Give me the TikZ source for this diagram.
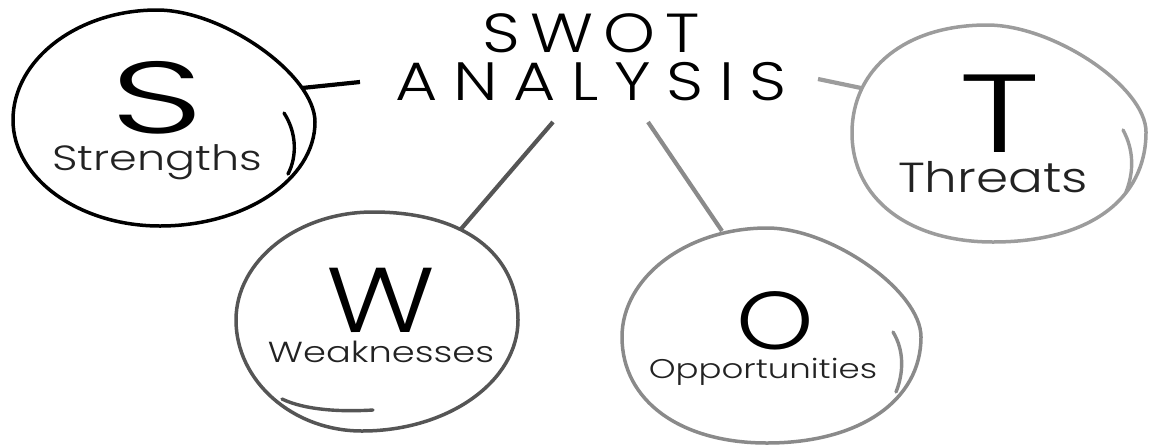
\documentclass[tikz,border=0pt]{standalone}
\usepackage{fontspec}
\setmainfont{Poppins}[UprightFont={* Light}]

\definecolor{wgray}{HTML}{555555}
\definecolor{ogray}{HTML}{8A8A8A}
\definecolor{tgray}{HTML}{9C9C9C}
\definecolor{labelink}{HTML}{222222}

\tikzset{
  bubble/.style={line width=3.5pt, line join=round},
  swoosh/.style={line width=3.4pt, line cap=round},
  link/.style={line width=4.2pt},
  bigletter/.style={anchor=base, inner sep=0pt, text=black},
  caption/.style={anchor=base, inner sep=0pt, text=labelink},
  heading/.style={anchor=base, inner sep=0pt, text=black},
}

\begin{document}
\begin{tikzpicture}[x=1pt, y=-1pt]
\useasboundingbox (0,0) rectangle (1150,445);

% title
\node[heading, font=\fontsize{55}{55}\selectfont\addfontfeature{FakeStretch=1.2,LetterSpace=18}] (swot) at (591,52) {SWOT};
\node[heading, font=\fontsize{54}{54}\selectfont\addfontfeature{FakeStretch=1.2,LetterSpace=29}] (analysis) at (591,100) {ANALYSIS};

% centres of the four bubbles
\coordinate (S) at (164,118);
\coordinate (T) at (1000,134);
\coordinate (W) at (377,321);
\coordinate (O) at (771,335);

% hand-drawn bubble outlines (top, right, bottom, left)
\draw[bubble, black]
  (157,10) .. controls (223.4,10) and (315,75) .. (315,122)
  .. controls (315,179.2) and (245.3,226) .. (160,226)
  .. controls (79.2,226) and (13,178.3) .. (13,120)
  .. controls (13,59.5) and (77.8,10) .. cycle;
\draw[bubble, tgray]
  (987,25) .. controls (1053.8,25) and (1146,87.1) .. (1146,132)
  .. controls (1146,200.2) and (1087.9,242) .. (993,242)
  .. controls (908.4,242) and (852,198.4) .. (852,133)
  .. controls (852,68.2) and (906,25) .. cycle;
\draw[bubble, wgray]
  (373,212) .. controls (462.9,212) and (518,253) .. (518,320)
  .. controls (518,381.6) and (447.8,431) .. (362,431)
  .. controls (292.7,431) and (236,381) .. (236,320)
  .. controls (236,260.6) and (297.6,212) .. cycle;
\draw[bubble, ogray]
  (767,228) .. controls (831.7,228) and (921,291.2) .. (921,337)
  .. controls (921,400.6) and (859.4,443) .. (767,443)
  .. controls (680,443) and (622,400.6) .. (622,337)
  .. controls (622,277) and (687.3,228) .. cycle;

% inner strokes of the bubbles
\draw[swoosh, black] (284,113) .. controls (297,133) and (297,157) .. (288,174);
\draw[swoosh, tgray] (1123,130) .. controls (1134,150) and (1134,172) .. (1126,192);
\draw[swoosh, ogray] (893,332) .. controls (904,350) and (904,372) .. (896,392);
\draw[swoosh, wgray] (282,399) .. controls (305,410) and (340,412) .. (373,410);

% connectors: each bubble to the title
\coordinate (sEnd) at (360,82);
\coordinate (tEnd) at (818,79);
\coordinate (wEnd) at (553,122);
\coordinate (oEnd) at (648,122);
\coordinate (sStart) at (302,88);
\coordinate (tStart) at (861,88);
\coordinate (wStart) at (461,229);
\coordinate (oStart) at (722,231);

\draw[link, black] (sStart) -- (sEnd);
\draw[link, tgray] (tStart) -- (tEnd);
\draw[link, wgray] (wStart) -- (wEnd);
\draw[link, ogray] (oStart) -- (oEnd);

% letters and captions
\node[bigletter, font=\fontsize{102}{102}\selectfont\addfontfeature{FakeStretch=1.6}] (sL) at (157,133) {S};
\node[caption, font=\fontsize{35}{35}\selectfont\addfontfeature{FakeStretch=1.27}] (sC) at (157,170) {Strengths};
\node[bigletter, font=\fontsize{111}{111}\selectfont\addfontfeature{FakeStretch=1.4}] (tL) at (1000,152) {T};
\node[caption, font=\fontsize{42}{42}\selectfont\addfontfeature{FakeStretch=1.23}] (tC) at (993,192) {Threats};
\node[bigletter, font=\fontsize{92}{92}\selectfont\addfontfeature{FakeStretch=1.24}] (wL) at (381,332) {W};
\node[caption, font=\fontsize{29}{29}\selectfont\addfontfeature{FakeStretch=1.27}] (wC) at (381,362) {Weaknesses};
\node[bigletter, font=\fontsize{82}{82}\selectfont\addfontfeature{FakeStretch=1.2}] (oL) at (775,349) {O};
\node[caption, font=\fontsize{27}{27}\selectfont\addfontfeature{FakeStretch=1.26}] (oC) at (763,378) {Opportunities};
\end{tikzpicture}
\end{document}
